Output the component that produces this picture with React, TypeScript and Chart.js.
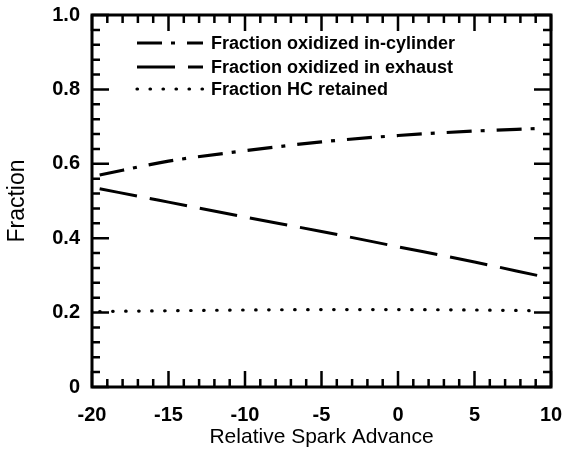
import React, { useEffect, useRef } from "react";
import { Chart, registerables } from "chart.js";

Chart.register(...registerables);

const xValues = [-19.5, -15, -10, -5, 0, 5, 9.1];
const inCylinder = [0.570, 0.607, 0.635, 0.659, 0.676, 0.688, 0.695];
const exhaust = [0.533, 0.497, 0.457, 0.418, 0.377, 0.336, 0.300];
const retained = [0.203, 0.205, 0.207, 0.208, 0.208, 0.207, 0.205];
const seriesLabels = [
  "Fraction oxidized in-cylinder",
  "Fraction oxidized in exhaust",
  "Fraction HC retained",
];
const xTitle = "Relative Spark Advance";
const yTitle = "Fraction";

const FONT = "'Liberation Sans', Arial, Helvetica, sans-serif";

const framePlugin = {
  id: "frameTicks",
  afterDraw(chart: any) {
    const ctx = chart.ctx;
    const { left, right, top, bottom } = chart.chartArea;
    const xs = chart.scales.x;
    const ys = chart.scales.y;
    ctx.save();
    ctx.strokeStyle = "#000";
    ctx.lineCap = "butt";
    ctx.lineWidth = 2.5;
    for (let v = -20; v <= 10; v++) {
      const px = xs.getPixelForValue(v);
      const len = v % 5 === 0 ? 16 : 8;
      ctx.beginPath();
      ctx.moveTo(px, bottom);
      ctx.lineTo(px, bottom - len);
      ctx.moveTo(px, top);
      ctx.lineTo(px, top + len);
      ctx.stroke();
    }
    for (let i = 0; i <= 25; i++) {
      const py = ys.getPixelForValue(i * 0.04);
      const len = i % 5 === 0 ? 17 : 8;
      ctx.beginPath();
      ctx.moveTo(left, py);
      ctx.lineTo(left + len, py);
      ctx.moveTo(right, py);
      ctx.lineTo(right - len, py);
      ctx.stroke();
    }
    ctx.lineWidth = 3;
    ctx.strokeRect(left, top, right - left, bottom - top);

    const rows = [43, 67, 89];
    const x0 = left + 45;
    const x1 = left + 111;
    chart.data.datasets.forEach((ds: any, i: number) => {
      const y = rows[i];
      ctx.beginPath();
      ctx.lineWidth = ds.borderWidth;
      ctx.lineCap = ds.borderCapStyle || "butt";
      ctx.setLineDash(ds.borderDash || []);
      ctx.moveTo(x0, y);
      ctx.lineTo(x1, y);
      ctx.stroke();
      ctx.setLineDash([]);
      ctx.fillStyle = "#000";
      ctx.font = `bold 18px ${FONT}`;
      ctx.textBaseline = "middle";
      ctx.textAlign = "left";
      ctx.fillText(ds.label, x1 + 8, y + 1);
    });
    ctx.restore();
  },
};

export default function App() {
  const ref = useRef<HTMLCanvasElement>(null);
  useEffect(() => {
    if (!ref.current) return;
    Chart.defaults.font.family = FONT;
    Chart.defaults.color = "#000";
    const mk = (ys: number[]) => xValues.map((x, i) => ({ x, y: ys[i] }));
    const chart = new Chart(ref.current, {
      type: "line",
      data: {
        datasets: [
          {
            label: seriesLabels[0],
            data: mk(inCylinder),
            borderColor: "#000",
            borderWidth: 3.2,
            borderDash: [25, 9, 4, 12],
            pointRadius: 0,
            cubicInterpolationMode: "monotone",
            fill: false,
          },
          {
            label: seriesLabels[1],
            data: mk(exhaust),
            borderColor: "#000",
            borderWidth: 3,
            borderDash: [38, 13],
            pointRadius: 0,
            cubicInterpolationMode: "monotone",
            fill: false,
          },
          {
            label: seriesLabels[2],
            data: mk(retained),
            borderColor: "#000",
            borderWidth: 3.2,
            borderDash: [0.5, 12.5],
            borderCapStyle: "round",
            pointRadius: 0,
            cubicInterpolationMode: "monotone",
            fill: false,
          },
        ],
      },
      options: {
        animation: false,
        responsive: true,
        maintainAspectRatio: false,
        layout: { padding: { top: 15, right: 13, left: 0, bottom: 0 } },
        plugins: { legend: { display: false }, tooltip: { enabled: false } },
        scales: {
          x: {
            type: "linear",
            min: -20,
            max: 10,
            grid: { display: false, drawTicks: false },
            border: { display: false },
            ticks: {
              stepSize: 5,
              padding: 16,
              font: { size: 20, weight: "bold" },
              color: "#000",
            },
            title: {
              display: true,
              text: xTitle,
              font: { size: 21 },
              color: "#000",
              padding: { top: 0, bottom: 2 },
            },
            afterFit: (s: any) => {
              s.height = 65;
              s.paddingLeft = 0;
              s.paddingRight = 0;
            },
          },
          y: {
            min: 0,
            max: 1,
            grid: { display: false, drawTicks: false },
            border: { display: false },
            ticks: {
              stepSize: 0.2,
              padding: 12,
              font: { size: 20, weight: "bold" },
              color: "#000",
              callback: (v: any) => (v === 0 ? "0" : Number(v).toFixed(1)),
            },
            title: {
              display: true,
              text: yTitle,
              font: { size: 23 },
              color: "#000",
              padding: { top: 4, bottom: 0 },
            },
            afterFit: (s: any) => {
              s.width = 92;
              s.paddingTop = 0;
              s.paddingBottom = 0;
            },
          },
        },
      },
      plugins: [framePlugin],
    });
    return () => chart.destroy();
  }, []);
  return (
    <div style={{ position: "fixed", left: 0, top: 0, width: 564, height: 452, background: "#fff" }}>
      <canvas ref={ref} />
    </div>
  );
}
